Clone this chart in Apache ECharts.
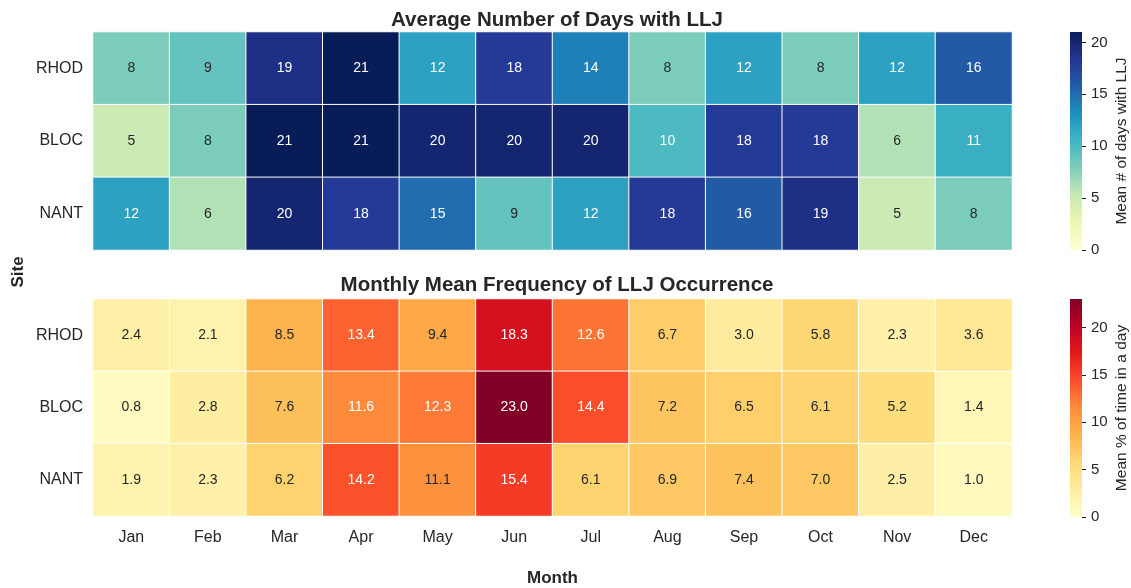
<!DOCTYPE html>
<html>
<head>
<meta charset="utf-8">
<script src="https://cdn.jsdelivr.net/npm/echarts@6/dist/echarts.min.js"></script>
<style>
* { margin: 0; padding: 0; }
html, body { background: #fff; }
</style>
</head>
<body>
<div id="main" style="width: 1131px;height: 588px;"></div>
<script>
// 数据
var months = ['Jan', 'Feb', 'Mar', 'Apr', 'May', 'Jun', 'Jul', 'Aug', 'Sep', 'Oct', 'Nov', 'Dec']
var sites = ['RHOD', 'BLOC', 'NANT']

// mean number of days with LLJ
var daysRHOD = [8, 9, 19, 21, 12, 18, 14, 8, 12, 8, 12, 16]
var daysBLOC = [5, 8, 21, 21, 20, 20, 20, 10, 18, 18, 6, 11]
var daysNANT = [12, 6, 20, 18, 15, 9, 12, 18, 16, 19, 5, 8]

// mean % of time in a day
var freqRHOD = [2.4, 2.1, 8.5, 13.4, 9.4, 18.3, 12.6, 6.7, 3.0, 5.8, 2.3, 3.6]
var freqBLOC = [0.8, 2.8, 7.6, 11.6, 12.3, 23.0, 14.4, 7.2, 6.5, 6.1, 5.2, 1.4]
var freqNANT = [1.9, 2.3, 6.2, 14.2, 11.1, 15.4, 6.1, 6.9, 7.4, 7.0, 2.5, 1.0]

var ylgnbu = ['#ffffd9', '#edf8b1', '#c7e9b4', '#7fcdbb', '#41b6c4', '#1d91c0', '#225ea8', '#253494', '#081d58']
var ylorrd = ['#ffffcc', '#ffeda0', '#fed976', '#feb24c', '#fd8d3c', '#fc4e2a', '#e31a1c', '#bd0026', '#800026']

var FONT = '"Liberation Sans", Arial, sans-serif'
var TXT = '#262626'

function hex2rgb(h) {
  return [parseInt(h.substr(1, 2), 16), parseInt(h.substr(3, 2), 16), parseInt(h.substr(5, 2), 16)]
}
function cmap(colors, t) {
  t = Math.max(0, Math.min(1, t))
  var p = t * (colors.length - 1)
  var i = Math.min(Math.floor(p), colors.length - 2)
  var f = p - i
  var a = hex2rgb(colors[i]), b = hex2rgb(colors[i + 1])
  return [0, 1, 2].map(function (k) { return a[k] + (b[k] - a[k]) * f })
}
// 跟 seaborn 一样按亮度决定文字颜色
function textColor(colors, t) {
  var c = cmap(colors, t).map(function (v) {
    v = v / 255
    return v <= 0.03928 ? v / 12.92 : Math.pow((v + 0.055) / 1.055, 2.4)
  })
  var lum = 0.2126 * c[0] + 0.7152 * c[1] + 0.0722 * c[2]
  return lum > 0.408 ? TXT : '#ffffff'
}

function buildData(rows, colors, vmax) {
  var out = []
  rows.forEach(function (row, y) {
    row.forEach(function (v, x) {
      out.push({
        value: [x, y, v],
        label: { color: textColor(colors, v / vmax) }
      })
    })
  })
  return out
}

var daysMax = Math.max.apply(null, daysRHOD.concat(daysBLOC, daysNANT))
var freqMax = Math.max.apply(null, freqRHOD.concat(freqBLOC, freqNANT))

function gradient(colors) {
  var stops = colors.map(function (c, i) {
    return { offset: 1 - i / (colors.length - 1), color: c }
  })
  return new echarts.graphic.LinearGradient(0, 0, 0, 1, stops.reverse())
}

var chart = echarts.init(document.getElementById('main'))

var catY = function (idx) {
  return {
    type: 'category', gridIndex: idx, data: sites, inverse: true,
    axisLine: { show: false }, axisTick: { show: false },
    axisLabel: { fontSize: 16, color: TXT, fontFamily: FONT, margin: 10 },
    splitArea: { show: false }
  }
}

var cbY = function (idx, max, name) {
  return {
    type: 'value', gridIndex: idx, position: 'right', min: 0, max: max, interval: 5,
    name: name, nameLocation: 'middle', nameGap: 32, nameRotate: 90,
    nameTextStyle: { fontSize: 15.5, color: TXT, fontFamily: FONT },
    axisLine: { show: false },
    axisTick: { show: true, length: 4, lineStyle: { color: TXT } },
    axisLabel: { fontSize: 15, color: TXT, fontFamily: FONT, margin: 9,
      showMaxLabel: false },
    splitLine: { show: false }
  }
}

chart.setOption({
  animation: false,
  backgroundColor: '#fff',
  title: [
    { text: 'Average Number of Days with LLJ', left: 552, top: 5, textAlign: 'center',
      textStyle: { fontSize: 20.5, fontWeight: 'bold', color: TXT, fontFamily: FONT } },
    { text: 'Monthly Mean Frequency of LLJ Occurrence', left: 552, top: 270, textAlign: 'center',
      textStyle: { fontSize: 20.5, fontWeight: 'bold', color: TXT, fontFamily: FONT } }
  ],
  graphic: [
    { type: 'text', x: 18, y: 272, rotation: Math.PI / 2,
      style: { text: 'Site', font: 'bold 17px ' + FONT, fill: TXT,
        textAlign: 'center', textVerticalAlign: 'middle' } }
  ],
  grid: [
    { left: 93, top: 32, width: 919, height: 218 },
    { left: 93, top: 299, width: 919, height: 218 },
    { left: 1070, top: 32, width: 12, height: 218 },
    { left: 1070, top: 299, width: 12, height: 218 }
  ],
  xAxis: [
    { type: 'category', gridIndex: 0, data: months, show: false },
    { type: 'category', gridIndex: 1, data: months,
      name: 'Month', nameLocation: 'middle', nameGap: 54,
      nameTextStyle: { fontSize: 17, fontWeight: 'bold', color: TXT, fontFamily: FONT },
      axisLine: { show: false }, axisTick: { show: false },
      axisLabel: { fontSize: 16, color: TXT, fontFamily: FONT, margin: 14 } },
    { type: 'category', gridIndex: 2, data: ['cb'], show: false },
    { type: 'category', gridIndex: 3, data: ['cb'], show: false }
  ],
  yAxis: [
    catY(0),
    catY(1),
    cbY(2, daysMax, 'Mean # of days with LLJ'),
    cbY(3, freqMax, 'Mean % of time in a day')
  ],
  visualMap: [
    { type: 'continuous', show: false, seriesIndex: 0, dimension: 2,
      min: 0, max: daysMax, inRange: { color: ylgnbu } },
    { type: 'continuous', show: false, seriesIndex: 1, dimension: 2,
      min: 0, max: freqMax, inRange: { color: ylorrd } }
  ],
  series: [
    {
      type: 'heatmap', xAxisIndex: 0, yAxisIndex: 0,
      data: buildData([daysRHOD, daysBLOC, daysNANT], ylgnbu, daysMax),
      itemStyle: { borderColor: '#fff', borderWidth: 1 },
      label: { show: true, fontSize: 14, fontFamily: FONT,
        formatter: function (p) { return p.value[2].toFixed(0) } }
    },
    {
      type: 'heatmap', xAxisIndex: 1, yAxisIndex: 1,
      data: buildData([freqRHOD, freqBLOC, freqNANT], ylorrd, freqMax),
      itemStyle: { borderColor: '#fff', borderWidth: 1 },
      label: { show: true, fontSize: 14, fontFamily: FONT,
        formatter: function (p) { return p.value[2].toFixed(1) } }
    },
    {
      // colorbar
      type: 'bar', xAxisIndex: 2, yAxisIndex: 2, barWidth: '100%',
      data: [daysMax], silent: true,
      itemStyle: { color: gradient(ylgnbu) }
    },
    {
      type: 'bar', xAxisIndex: 3, yAxisIndex: 3, barWidth: '100%',
      data: [freqMax], silent: true,
      itemStyle: { color: gradient(ylorrd) }
    }
  ]
})
</script>
</body>
</html>
